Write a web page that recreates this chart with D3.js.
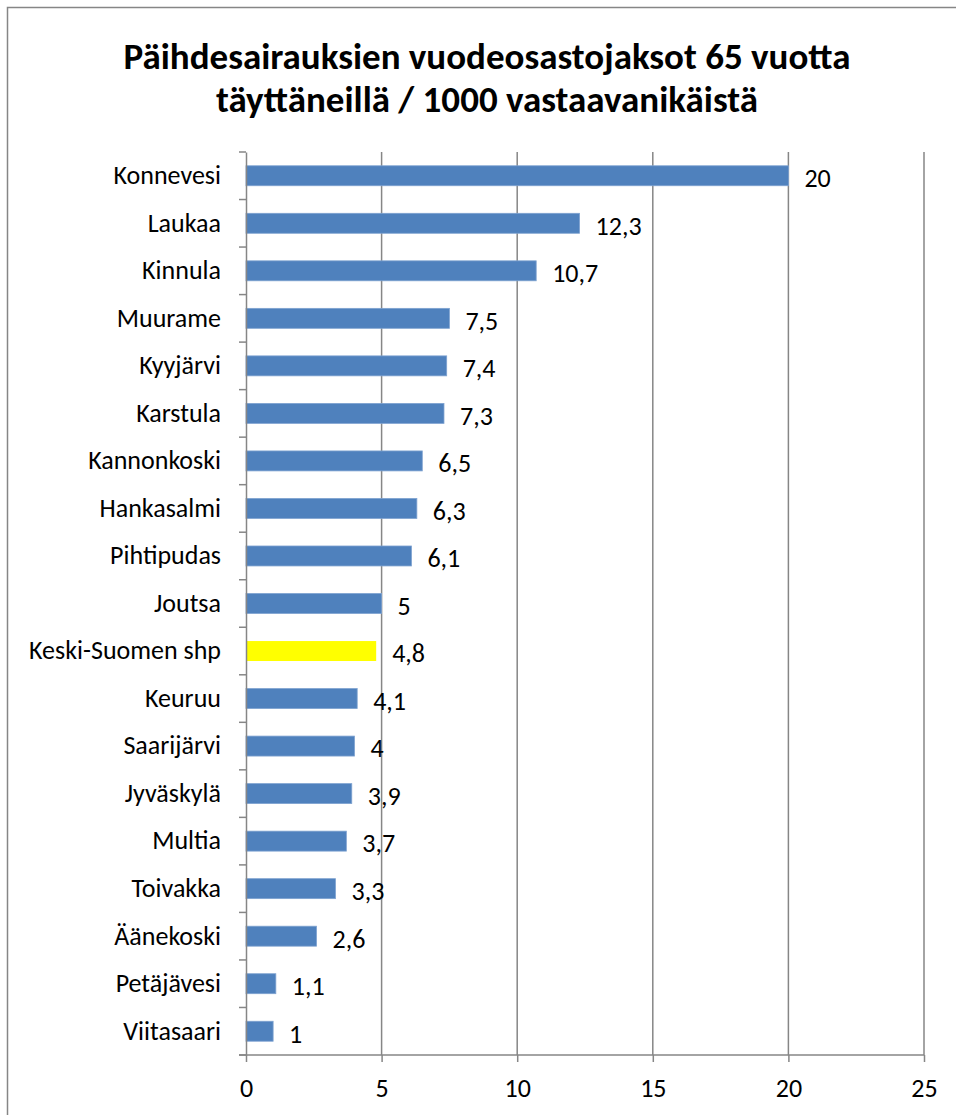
<!DOCTYPE html>
<html>
<head>
<meta charset="utf-8">
<script src="https://cdn.jsdelivr.net/npm/d3@7"></script>
<style>
	body { margin: 0; background: #fff; }
	text { font-family: Carlito, Calibri, Lato, sans-serif; }
</style>
</head>
<body>
<script>
const titleLines = ['Päihdesairauksien vuodeosastojaksot 65 vuotta', 'täyttäneillä / 1000 vastaavanikäistä'];

const municipalities = [
	'Konnevesi', 'Laukaa', 'Kinnula', 'Muurame', 'Kyyjärvi', 'Karstula',
	'Kannonkoski', 'Hankasalmi', 'Pihtipudas', 'Joutsa', 'Keski-Suomen shp',
	'Keuruu', 'Saarijärvi', 'Jyväskylä', 'Multia', 'Toivakka', 'Äänekoski',
	'Petäjävesi', 'Viitasaari',
];
const values = [20, 12.3, 10.7, 7.5, 7.4, 7.3, 6.5, 6.3, 6.1, 5, 4.8, 4.1, 4, 3.9, 3.7, 3.3, 2.6, 1.1, 1];
const highlight = 'Keski-Suomen shp';
const xTicks = [0, 5, 10, 15, 20, 25];

const w = 956;
const h = 1115;
const plotLeft = 246;
const plotRight = 924;
const plotTop = 152;
const plotBottom = 1055;
const fs = 26;

const svg = d3
	.select('body')
	.append('svg')
	.attr('width', w)
	.attr('height', h);

// outer frame
svg.append('rect')
	.attr('x', 7.5)
	.attr('y', 7.5)
	.attr('width', 960)
	.attr('height', 1120)
	.attr('fill', 'none')
	.attr('stroke', '#868686')
	.attr('stroke-width', 1.5);

svg.selectAll('.title')
	.data(titleLines)
	.enter()
	.append('text')
	.attr('class', 'title')
	.attr('x', 487)
	.attr('y', (d, i) => 69 + i * 43)
	.attr('text-anchor', 'middle')
	.attr('font-size', 37)
	.attr('font-weight', 'bold')
	.text(d => d);

const xScale = d3.scaleLinear().domain([0, 25]).range([plotLeft, plotRight]);

const yScale = d3
	.scaleBand()
	.domain(municipalities)
	.range([plotTop, plotBottom])
	.paddingInner(0.58)
	.paddingOuter(0.29);

// gridlines
svg.selectAll('.grid')
	.data(xTicks.slice(1))
	.enter()
	.append('line')
	.attr('x1', d => xScale(d))
	.attr('x2', d => xScale(d))
	.attr('y1', plotTop)
	.attr('y2', plotBottom)
	.attr('stroke', '#868686')
	.attr('stroke-width', 1.5);

// bars
const data = municipalities.map((m, i) => ({ name: m, value: values[i] }));

svg.selectAll('.bar')
	.data(data)
	.enter()
	.append('rect')
	.attr('x', xScale(0))
	.attr('y', d => yScale(d.name))
	.attr('width', d => xScale(d.value) - xScale(0))
	.attr('height', yScale.bandwidth())
	.attr('fill', d => (d.name === highlight ? '#ffff00' : '#4f81bd'))
	.attr('stroke', d => (d.name === highlight ? 'none' : '#7ea2d0'))
	.attr('stroke-width', 0.8);

svg.selectAll('.val')
	.data(data)
	.enter()
	.append('text')
	.attr('x', d => xScale(d.value) + 16)
	.attr('y', d => yScale(d.name) + yScale.bandwidth() / 2 + 2)
	.attr('dy', '0.36em')
	.attr('font-size', fs)
	.text(d => String(d.value).replace('.', ','));

// y axis
const yAxis = d3.axisLeft(yScale).tickSize(0).tickPadding(25);
const gy = svg.append('g').attr('transform', `translate(${plotLeft},0)`).call(yAxis);
gy.select('.domain').attr('stroke', '#868686').attr('stroke-width', 1.5);
gy.selectAll('text').attr('font-size', fs).attr('fill', '#000').attr('font-family', null);

// band boundary ticks
const bounds = municipalities.map(m => yScale(m) - yScale.step() * yScale.paddingInner() / 2);
bounds.push(plotBottom);
svg.selectAll('.ytick')
	.data(bounds)
	.enter()
	.append('line')
	.attr('x1', plotLeft - 7)
	.attr('x2', plotLeft)
	.attr('y1', d => d)
	.attr('y2', d => d)
	.attr('stroke', '#868686')
	.attr('stroke-width', 1.5);

// x axis
const xAxis = d3.axisBottom(xScale).tickValues(xTicks).tickSize(7).tickPadding(17);
const gx = svg.append('g').attr('transform', `translate(0,${plotBottom})`).call(xAxis);
gx.select('.domain').attr('stroke', '#868686').attr('stroke-width', 1.5).attr('d', `M${plotLeft - 7},0H${plotRight}`);
gx.selectAll('.tick line').attr('stroke', '#868686').attr('stroke-width', 1.5);
gx.selectAll('text').attr('font-size', fs).attr('fill', '#000');
</script>
</body>
</html>
